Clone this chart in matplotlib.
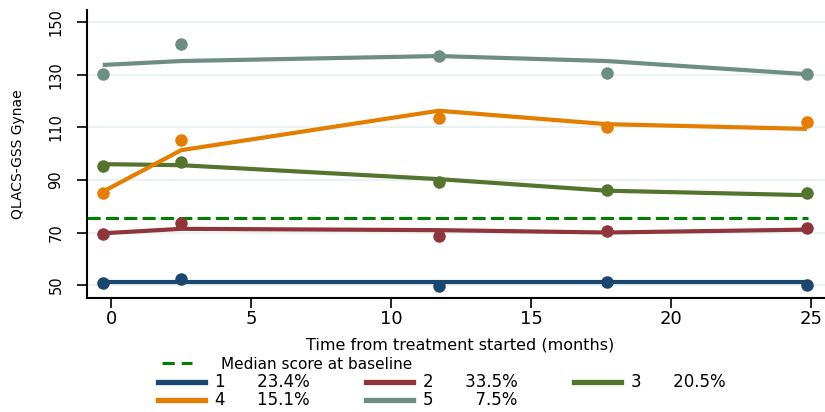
import numpy as np
import matplotlib
matplotlib.use('Agg')
import matplotlib.pyplot as plt
from matplotlib.lines import Line2D

plt.rcParams['font.family'] = ['DejaVu Sans']

# visit times (months) and observed / fitted scores per trajectory group
times = [-0.3, 2.5, 11.7, 17.7, 24.85]
groups = ['1', '2', '3', '4', '5']
shares = ['23.4%', '33.5%', '20.5%', '15.1%', '7.5%']
colors = ['#1a476f', '#90353b', '#55752f', '#e37e00', '#6e8e84']

observed = {
  '1': [50.9, 52.2, 49.6, 51.0, 50.0],
  '2': [69.3, 73.5, 68.8, 70.4, 71.6],
  '3': [95.2, 96.9, 89.3, 86.1, 85.2],
  '4': [85.2, 105.3, 113.5, 110.2, 112.2],
  '5': [130.2, 141.5, 137.3, 130.7, 130.2],
}
fitted = {
  '1': [51.0, 51.0, 51.0, 51.0, 51.0],
  '2': [69.7, 71.4, 70.9, 70.0, 71.1],
  '3': [96.0, 95.6, 90.3, 85.9, 84.2],
  '4': [85.5, 101.3, 116.3, 111.2, 109.4],
  '5': [133.7, 135.2, 137.1, 135.2, 130.2],
}
median_baseline = 75.6
yticks = [50, 70, 90, 110, 130, 150]
xticks = [0, 5, 10, 15, 20, 25]

fig = plt.figure(figsize=(8.25, 4.12), dpi=100)
ax = fig.add_axes([0.1055, 0.2767, 0.8945, 0.699])

for y in yticks:
  ax.axhline(y, color='#eaf2f3', lw=1.5, zorder=0)

for g, c in zip(groups, colors):
  ax.plot(times, observed[g], 'o', color=c, ms=9, mec='none', zorder=3)
  ax.plot(times, fitted[g], '-', color=c, lw=3, zorder=2, solid_capstyle='butt')

ax.plot([-0.86, 24.9], [median_baseline, median_baseline], '--', color='#008000',
        lw=2.2, dashes=(4.3, 1.7), zorder=2)

ax.set_xlim(-0.86, 25.5)
ax.set_ylim(45.1, 154.6)
ax.set_xticks(xticks)
ax.set_yticks(yticks)
ax.tick_params(axis='x', labelsize=13, length=7, width=1.2, direction='out', pad=1.5)
ax.tick_params(axis='y', labelsize=10.5, length=7, width=1.2, direction='out', pad=10)
for lab in ax.get_yticklabels():
  lab.set_rotation(90)
  lab.set_va('center')
ax.spines['top'].set_visible(False)
ax.spines['right'].set_visible(False)
ax.spines['left'].set_linewidth(1.5)
ax.spines['bottom'].set_linewidth(1.5)

ax.set_xlabel('Time from treatment started (months)', fontsize=11.5, va='center')
ax.xaxis.set_label_coords(0.505, -0.163)
ax.set_ylabel('QLACS-GSS Gynae', fontsize=10, va='center')
ax.yaxis.set_label_coords(-0.0935, 0.5)

# legends
med = [Line2D([], [], color='#008000', ls='--', lw=2.2, dashes=(4, 2.3))]
leg1 = fig.legend(med, ['Median score at baseline'], loc='center left',
                  bbox_to_anchor=(0.196, 0.1165), frameon=False, fontsize=11,
                  handlelength=2.0, handletextpad=1.9, borderpad=0, borderaxespad=0)

# matplotlib fills legend columns first, so reorder to read row by row
order = [0, 3, 1, 4, 2]
handles = [Line2D([], [], color=colors[i], lw=3.8) for i in order]
labels = []
for i in order:
  gap = ' ' * 8 if len(shares[i]) < 5 else ' ' * 6
  labels.append(groups[i] + gap + shares[i])
leg2 = fig.legend(handles, labels, loc='center left', ncol=3,
                  bbox_to_anchor=(0.1915, 0.05), frameon=False, fontsize=12,
                  handlelength=2.8, handletextpad=0.6, columnspacing=3.4,
                  labelspacing=0.0, borderpad=0, borderaxespad=0)

fig.savefig('out.png', dpi=100)
